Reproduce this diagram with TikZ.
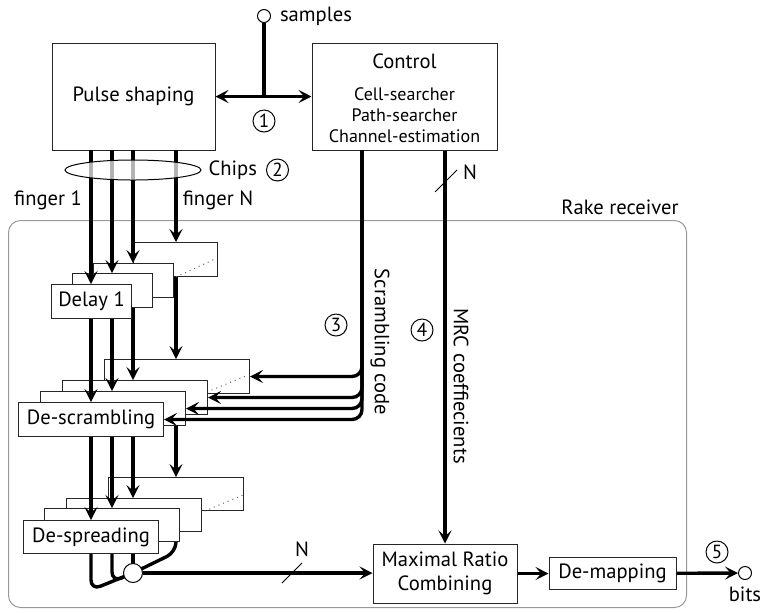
\documentclass[tikz,border=0pt]{standalone}
\usepackage{fontspec}
\setmainfont{PT Sans}
\usetikzlibrary{arrows.meta, positioning, calc, shapes.geometric}

\begin{document}
\begin{tikzpicture}[
        x=0.5pt, y=-0.5pt,
        font=\fontsize{10.3}{12}\selectfont,
        box/.style={rectangle, draw=black!85, line width=0.5pt, fill=white, inner sep=0pt},
        delaybox/.style={box, anchor=north west, minimum width=40pt, minimum height=17pt},
        scrbox/.style={box, anchor=north west, minimum width=72.5pt, minimum height=17pt},
        sprbox/.style={box, anchor=north west, minimum width=67.5pt, minimum height=16.5pt},
        arrow/.style={-{Stealth[length=6.5pt, width=6.5pt, inset=2.8pt]}, line width=1.7pt},
        line/.style={line width=1.7pt},
        num/.style={circle, draw, line width=0.5pt, inner sep=0pt, minimum size=11pt, font=\fontsize{9.5}{10}\selectfont},
        port/.style={circle, draw, line width=0.5pt, fill=white, inner sep=0pt, minimum size=6.5pt},
        dots/.style={dotted, draw=black!60, line width=0.5pt},
        tick/.style={line width=0.5pt},
        rakebox/.style={draw=black!40, line width=0.5pt, rounded corners=6pt}
    ]
    \useasboundingbox (0,0) rectangle (763,612);

    % rake receiver frame
    \node[rakebox, anchor=north west, minimum width=339pt, minimum height=193.5pt] (rake) at (8,220) {};
    \node (rakelabel) at (620,207) {Rake receiver};

    % top blocks
    \node[box, minimum width=81.5pt, minimum height=53.5pt] (pulse) at (133.5,96.5) {Pulse shaping};
    \node[box, minimum width=92.5pt, minimum height=53.5pt] (ctrl) at (404.5,96.5) {};
    \node (ctrltitle) at (404.5,61) {Control};
    \node[align=center, font=\fontsize{9}{10.5}\selectfont] (ctrlsub) at (404.5,115) {Cell-searcher\\Path-searcher\\Channel-estimation};

    \node[port] (samples) at (264,16) {};
    \node[right=1pt of samples] (sampleslabel) {samples};
    \coordinate (junc) at (samples |- pulse.east);
    \draw[line] (samples) -- (junc);
    \draw[arrow] (junc) -- (pulse.east);
    \draw[arrow] (junc) -- (ctrl.west);
    \node[num] (n1) at (264,121) {1};

    \coordinate (lane1) at (91,150);
    \coordinate (lane2) at (112,150);
    \coordinate (lane3) at (133,150);
    \coordinate (lane4) at (176,150);
    \coordinate (scr) at (362,150);
    \coordinate (combc) at (133,573);

    % finger N (back)
    \node[delaybox, minimum width=42pt] (dl4) at (133,242) {};
    \node[scrbox] (dsc4) at (104,359) {};
    \node[sprbox] (dsp4) at (108,477) {};
    \draw[arrow] (lane4) -- (lane4 |- dl4.north);
    \draw[arrow] (lane4 |- dl4.south) -- (lane4 |- dsc4.north);
    \draw[arrow] (lane4 |- dsc4.south) -- (lane4 |- dsp4.north);
    \draw[line, rounded corners=5pt] (lane4 |- dsp4.south) -- (176,552) -- (combc);
    \draw[arrow, rounded corners=5pt] (scr) |- (dsc4.east);
    \draw[dots] (176,277) -- (215,259);
    \draw[dots] (207,392) -- (248,375);
    \draw[dots] (200,513) -- (243,495);

    % finger 3
    \node[delaybox] (dl3) at (93,263) {};
    \node[scrbox] (dsc3) at (62,380) {};
    \node[sprbox] (dsp3) at (66,498) {};
    \draw[arrow] (lane3) -- (lane3 |- dl3.north);
    \draw[arrow] (lane3 |- dl3.south) -- (lane3 |- dsc3.north);
    \draw[arrow] (lane3 |- dsc3.south) -- (lane3 |- dsp3.north);
    \draw[line] (lane3 |- dsp3.south) -- (combc);
    \draw[arrow, rounded corners=5pt] (scr) |- (dsc3.east);

    % finger 2
    \node[delaybox] (dl2) at (72,273) {};
    \node[scrbox] (dsc2) at (40,391) {};
    \node[sprbox] (dsp2) at (44,508) {};
    \draw[arrow] (lane2) -- (lane2 |- dl2.north);
    \draw[arrow] (lane2 |- dl2.south) -- (lane2 |- dsc2.north);
    \draw[arrow] (lane2 |- dsc2.south) -- (lane2 |- dsp2.north);
    \draw[line, rounded corners=5pt] (lane2 |- dsp2.south) -- (112,582) -- (combc);
    \draw[arrow, rounded corners=5pt] (scr) |- (dsc2.east);

    % finger 1 (front)
    \node[delaybox] (dl1) at (51,284) {Delay 1};
    \node[scrbox] (dsc1) at (18,402) {De-scrambling};
    \node[sprbox] (dsp1) at (23,520) {De-spreading};
    \draw[arrow] (lane1) -- (lane1 |- dl1.north);
    \draw[arrow] (lane1 |- dl1.south) -- (lane1 |- dsc1.north);
    \draw[arrow] (lane1 |- dsc1.south) -- (lane1 |- dsp1.north);
    \draw[line, rounded corners=5pt] (lane1 |- dsp1.south) -- (91,590) -- (combc);
    \draw[arrow, rounded corners=5pt] (scr) |- (dsc1.east);

    % chips bundle
    \node[ellipse, draw, line width=0.5pt, fill=white, fill opacity=0.7, minimum width=68pt, minimum height=10pt, inner sep=0pt] (chips) at (133,170) {};
    \node[right=0pt of chips] (chipslabel) {Chips};
    \node[num, right=1pt of chipslabel] (n2) {2};
    \node (finger1) at (48,200) {finger 1};
    \node (fingerN) at (218,200) {finger N};

    \node[rotate=-90] (scrlabel) at (380,342) {Scrambling code};
    \node[num] (n3) at (336,325) {3};

    % combining and output
    \node[box, minimum width=72pt, minimum height=29.5pt, align=center] (mrc) at (445,573.5) {Maximal Ratio\\Combining};
    \draw[arrow] (ctrl.south -| mrc.north) -- (mrc.north);
    \coordinate (nslash1) at (446,181);
    \draw[tick] ($(nslash1)+(-11,11)$) -- ($(nslash1)+(11,-11)$);
    \node (nlabel1) at (470,172) {N};
    \node[rotate=-90] (mrclabel) at (461,386) {MRC coeffiecients};
    \node[num] (n4) at (422,330) {4};

    \node[port, minimum size=9.5pt] (comb) at (combc) {};
    \draw[arrow] (comb) -- (comb -| mrc.west);
    \coordinate (nslash2) at (292,573);
    \draw[tick] ($(nslash2)+(-10,10)$) -- ($(nslash2)+(10,-10)$);
    \node (nlabel2) at (302,549) {N};

    \node[box, minimum width=63.5pt, minimum height=16pt, right=15.5pt of mrc] (dmap) {De-mapping};
    \draw[arrow] (mrc) -- (dmap);
    \node[port] (bits) at (745,573) {};
    \draw[arrow] (dmap) -- (bits);
    \node[below=0pt of bits] (bitslabel) {bits};
    \node[num] (n5) at (717,552) {5};
\end{tikzpicture}
\end{document}
